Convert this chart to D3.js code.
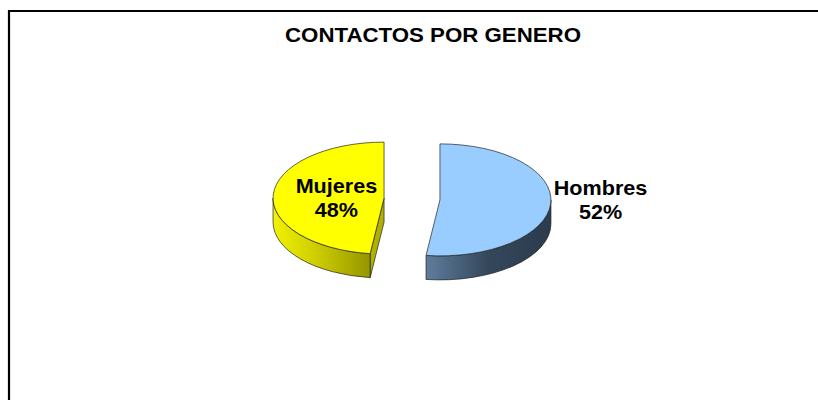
<!DOCTYPE html>
<html>
<head>
<meta charset="utf-8">
<script src="https://cdn.jsdelivr.net/npm/d3@7"></script>
<style>
  html, body { margin: 0; padding: 0; background: #fff; overflow: hidden; }
  svg { display: block; font-family: "Liberation Sans", Arial, sans-serif; }
</style>
</head>
<body>
<svg id="chart" width="818" height="400"></svg>
<script>
// data
var title = "CONTACTOS POR GENERO";
var categories = ["Hombres", "Mujeres"];
var values = [52, 48];
var topColors = ["#99ccff", "#ffff00"];
var sideColors = [["#5e7d9c", "#34475b", "#2c3b4d"], ["#f2f200", "#c8c800", "#959500"]];
var cutColors = ["#3b4f63", "#b0b000"];

var svg = d3.select("#chart");

// frame: only top and left edges fall inside the picture
svg.append("path")
    .attr("d", "M9,400V11H818")
    .attr("fill", "none")
    .attr("stroke", "#000")
    .attr("stroke-width", 2.2);

svg.append("text")
    .attr("x", 433).attr("y", 42)
    .attr("text-anchor", "middle")
    .attr("font-size", 20)
    .attr("font-weight", "bold")
    .attr("textLength", 296)
    .attr("lengthAdjust", "spacingAndGlyphs")
    .text(title);

// pie geometry
var cx = 412, cy = 199, rx = 111, ry = 56, depth = 24, explode = 28;

var pie = d3.pie().sort(null).value(d => d);
var arcs = pie(values);

function pt(c, a, dy) {
  return [c[0] + rx * Math.sin(a), c[1] - ry * Math.cos(a) + (dy || 0)];
}

var defs = svg.append("defs");

arcs.forEach(function (d, i) {
  var mid = (d.startAngle + d.endAngle) / 2;
  var c = [cx + explode * Math.sin(mid), cy - explode * (ry / rx) * Math.cos(mid)];
  var g = svg.append("g");
  var a0 = d.startAngle, a1 = d.endAngle;
  var large = (a1 - a0) > Math.PI ? 1 : 0;

  // cut faces that face the viewer
  [[a0, a0 - Math.PI / 2], [a1, a1 + Math.PI / 2]].forEach(function (e) {
    if (Math.cos(e[1]) < -0.01) {
      var p = pt(c, e[0]), q = pt(c, e[0], depth);
      var path = d3.path();
      path.moveTo(c[0], c[1]);
      path.lineTo(p[0], p[1]);
      path.lineTo(q[0], q[1]);
      path.lineTo(c[0], c[1] + depth);
      path.closePath();
      g.append("path").attr("d", path.toString())
          .attr("fill", cutColors[i])
          .attr("stroke", "#222").attr("stroke-width", 0.7);
    }
  });

  // outer side (front half only)
  var s0 = Math.max(a0, Math.PI / 2), s1 = Math.min(a1, 3 * Math.PI / 2);
  if (s1 > s0) {
    var gid = "side" + i;
    var xs0 = pt(c, s0)[0], xs1 = pt(c, s1)[0];
    var grad = defs.append("linearGradient").attr("id", gid)
        .attr("gradientUnits", "userSpaceOnUse")
        .attr("x1", Math.min(xs0, xs1)).attr("x2", Math.max(xs0, xs1))
        .attr("y1", 0).attr("y2", 0);
    sideColors[i].forEach(function (col, k) {
      grad.append("stop").attr("offset", k / (sideColors[i].length - 1)).attr("stop-color", col);
    });
    var p0 = pt(c, s0), p1 = pt(c, s1), b1 = pt(c, s1, depth), b0 = pt(c, s0, depth);
    var sd = "M" + p0 + "A" + rx + "," + ry + " 0 0 1 " + p1 +
             "L" + b1 + "A" + rx + "," + ry + " 0 0 0 " + b0 + "Z";
    g.append("path").attr("d", sd)
        .attr("fill", "url(#" + gid + ")")
        .attr("stroke", "#222").attr("stroke-width", 0.7);
  }

  // top face
  var t0 = pt(c, a0), t1 = pt(c, a1);
  var td = "M" + c + "L" + t0 + "A" + rx + "," + ry + " 0 " + large + " 1 " + t1 + "Z";
  g.append("path").attr("d", td)
      .attr("fill", topColors[i])
      .attr("stroke", "#222").attr("stroke-width", 0.7);

  // label: outside for Hombres, inside for Mujeres
  var lr = i === 0 ? 1.45 : 0.43;
  var lx = c[0] + rx * lr * Math.sin(mid);
  var ly = c[1] - ry * lr * Math.cos(mid) - (i === 0 ? 6 : 0);
  var t = svg.append("text")
      .attr("text-anchor", "middle")
      .attr("font-size", 20)
      .attr("font-weight", "bold")
      .attr("fill", "#000")
      .attr("transform", "translate(" + lx + ",0) scale(1.08,1) translate(" + (-lx) + ",0)");
  t.append("tspan").attr("x", lx).attr("y", ly - 4).text(categories[i]);
  t.append("tspan").attr("x", lx).attr("y", ly + 20)
      .text(Math.round(100 * d.value / d3.sum(values)) + "%");
});
</script>
</body>
</html>
